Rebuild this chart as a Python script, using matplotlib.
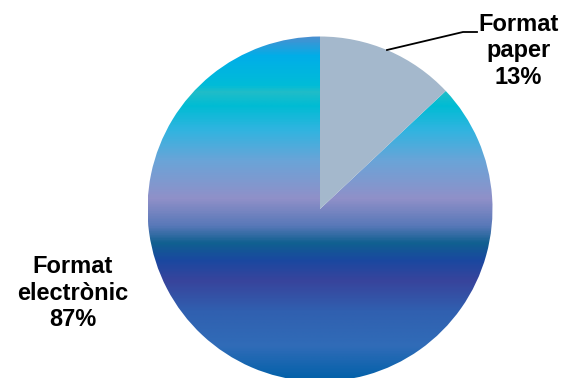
import numpy as np
import matplotlib
matplotlib.use("Agg")
import matplotlib.pyplot as plt
from matplotlib.colors import LinearSegmentedColormap

plt.rcParams['font.family'] = ['Liberation Sans', 'DejaVu Sans']

labels = ["Format\npaper\n13%", "Format\nelectrònic\n87%"]
values = [13, 87]
paper_color = "#A4B8CC"

# gradient of the big slice, top -> bottom
grad_pos = [0.0, 0.055, 0.14, 0.16, 0.2, 0.27, 0.36, 0.47, 0.55, 0.6, 0.65, 0.71, 0.8, 0.9, 1.0]
grad_col = ["#4A8FD0", "#00AEE8", "#00BCD8", "#20BCC8", "#00BCD4", "#30B4E0", "#6AA4D8",
            "#9090C8", "#5878B8", "#106090", "#1A48A0", "#38449C", "#3060B0", "#306CB8", "#0060A8"]

fig = plt.figure(figsize=(5.64, 3.78), dpi=100)
ax = fig.add_axes([0, 0, 1, 1])

cx, cy, r = 320, 169, 172.5
wedges, _ = ax.pie(values, colors=[paper_color, "none"], startangle=90, counterclock=False,
                   center=(cx, cy), radius=r, frame=True)
ax.set_xlim(0, 564)
ax.set_ylim(0, 378)
ax.set_aspect("equal")
ax.axis("off")

cmap = LinearSegmentedColormap.from_list("grad", list(zip(grad_pos, grad_col)))
g = np.linspace(0, 1, 400).reshape(-1, 1)
im = ax.imshow(g, cmap=cmap, aspect="auto", extent=(cx - r, cx + r, cy - r, cy + r),
               origin="upper", zorder=0.5)
im.set_clip_path(wedges[1])

# labels
ax.text(518.5, 327, labels[0], ha="center", va="center", fontsize=17, fontweight="bold",
        linespacing=1.2)
ax.text(73, 85, labels[1], ha="center", va="center", fontsize=17, fontweight="bold",
        linespacing=1.2)
ax.plot([387, 463, 477], [328, 346, 346], color="black", lw=1.3)

fig.savefig("out.png", dpi=100)
